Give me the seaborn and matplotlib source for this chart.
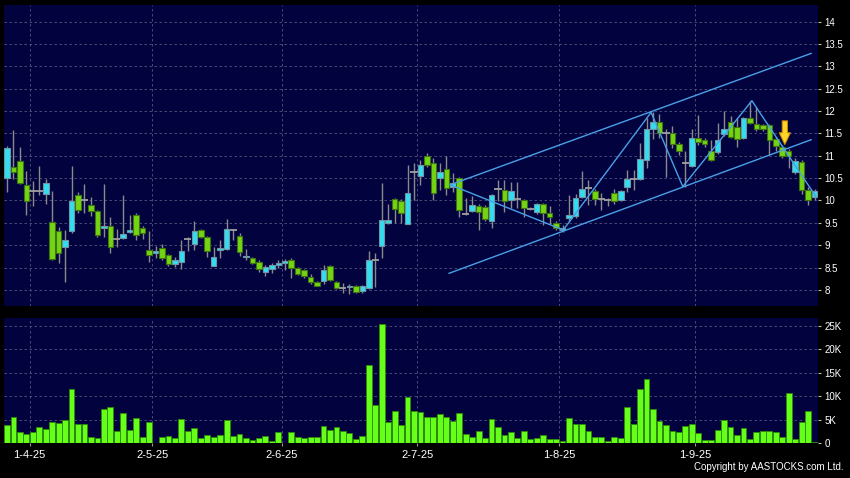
import numpy as np
import pandas as pd
import matplotlib
matplotlib.use('Agg')
import matplotlib.pyplot as plt
import seaborn as sns

# daily OHLC (HK$), oldest first
opens = [10.50, 10.74, 10.88, 10.35, 10.22, 10.22, 10.15, 9.52, 9.31, 8.95,
         9.31, 10.12, 10.00, 9.90, 9.76, 9.38, 9.42, 9.13, 9.16, 9.29,
         9.68, 9.38, 8.90, 8.82, 8.93, 8.79, 8.57, 8.62, 9.13, 9.02,
         9.33, 9.19, 8.54, 8.90, 8.91, 9.34, 9.21, 8.73, 8.71, 8.63,
         8.41, 8.46, 8.56, 8.60, 8.67, 8.50, 8.44, 8.28, 8.17, 8.20,
         8.53, 8.17, 8.05, 8.06, 8.09, 7.98, 8.04, 8.68, 8.99, 9.50,
         10.03, 9.98, 9.47, 10.63, 10.55, 11.00, 10.84, 10.50, 10.70, 10.30,
         10.50, 9.70, 9.77, 9.87, 9.85, 9.53, 10.25, 10.24, 10.02, 10.03,
         10.00, 9.82, 9.75, 9.92, 9.72, 9.49, 9.35, 9.60, 9.66, 10.08,
         10.27, 10.22, 10.04, 10.00, 10.17, 10.02, 10.30, 10.47, 10.48, 10.91,
         11.60, 11.76, 11.51, 11.51, 11.27, 10.84, 10.78, 11.39, 11.36, 11.10,
         11.08, 11.49, 11.76, 11.64, 11.40, 11.84, 11.71, 11.69, 11.68, 11.38,
         11.20, 11.10, 10.64, 10.85, 10.24, 10.08]
highs = [11.21, 11.58, 11.20, 10.65, 10.43, 10.78, 10.49, 10.22, 9.40, 9.34,
         10.76, 10.18, 10.37, 10.08, 9.79, 10.37, 9.64, 9.36, 10.13, 9.68,
         9.72, 9.44, 9.31, 8.98, 9.03, 8.80, 8.73, 9.12, 9.19, 9.55,
         9.36, 9.20, 8.97, 9.12, 9.58, 9.36, 9.27, 8.91, 8.74, 8.66,
         8.56, 8.60, 8.67, 8.69, 8.71, 8.52, 8.46, 8.35, 8.19, 8.56,
         8.56, 8.20, 8.15, 8.13, 8.12, 8.12, 8.87, 8.82, 10.40, 9.92,
         10.05, 10.03, 10.80, 10.84, 10.91, 11.06, 10.95, 10.84, 11.00, 10.62,
         10.52, 10.05, 10.09, 9.92, 9.90, 10.15, 10.46, 10.46, 10.42, 10.42,
         10.03, 9.86, 9.95, 9.95, 9.87, 9.53, 9.45, 10.13, 10.15, 10.67,
         10.45, 10.25, 10.16, 10.06, 10.26, 10.24, 10.69, 10.69, 11.28, 11.85,
         11.97, 11.94, 11.60, 11.66, 11.30, 11.10, 11.60, 11.90, 11.40, 11.36,
         11.74, 12.00, 11.88, 11.84, 11.86, 12.22, 12.10, 11.72, 11.72, 11.41,
         11.25, 11.15, 10.95, 10.90, 10.30, 10.25]
lows = [10.20, 10.47, 10.37, 9.68, 9.88, 10.13, 9.92, 8.67, 8.60, 8.18,
        9.28, 9.72, 9.73, 9.66, 9.19, 9.19, 8.82, 8.97, 9.13, 9.27,
        9.12, 9.13, 8.62, 8.71, 8.67, 8.54, 8.52, 8.46, 8.86, 8.89,
        9.16, 8.73, 8.53, 8.71, 8.90, 9.11, 8.76, 8.66, 8.57, 8.41,
        8.31, 8.37, 8.48, 8.45, 8.27, 8.33, 8.26, 8.13, 8.08, 8.14,
        8.20, 8.02, 7.92, 7.90, 7.93, 7.93, 8.02, 8.07, 8.71, 9.48,
        9.49, 9.50, 9.47, 10.02, 10.35, 10.75, 10.02, 10.24, 10.13, 10.20,
        9.64, 9.68, 9.75, 9.35, 9.55, 9.39, 9.98, 9.75, 9.83, 9.83,
        9.64, 9.78, 9.70, 9.45, 9.48, 9.33, 9.30, 9.55, 9.60, 10.05,
        9.90, 9.90, 9.78, 9.88, 9.93, 9.98, 10.20, 10.24, 10.45, 10.72,
        11.37, 11.40, 10.52, 11.17, 11.02, 10.31, 10.75, 11.25, 11.20, 10.88,
        11.05, 11.45, 11.40, 11.20, 11.38, 11.70, 11.55, 11.55, 11.02, 11.10,
        10.95, 10.73, 10.60, 10.15, 9.90, 10.00]
closes = [11.18, 10.64, 10.40, 9.99, 10.22, 10.22, 10.39, 8.69, 8.82, 9.11,
          9.99, 9.78, 10.00, 9.76, 9.22, 9.42, 8.97, 9.13, 9.25, 9.33,
          9.22, 9.28, 8.77, 8.86, 8.71, 8.57, 8.67, 8.87, 9.13, 9.31,
          9.18, 8.86, 8.74, 8.92, 9.36, 9.34, 8.84, 8.74, 8.60, 8.46,
          8.52, 8.56, 8.60, 8.64, 8.48, 8.35, 8.32, 8.17, 8.09, 8.45,
          8.22, 8.05, 8.05, 8.08, 7.95, 8.09, 8.68, 8.68, 9.56, 9.56,
          9.80, 9.73, 10.16, 10.63, 10.80, 10.80, 10.17, 10.63, 10.28, 10.39,
          9.78, 9.70, 9.89, 9.74, 9.58, 10.13, 10.25, 9.98, 10.22, 10.03,
          9.83, 9.82, 9.92, 9.72, 9.64, 9.39, 9.37, 9.68, 10.05, 10.25,
          10.27, 10.03, 10.04, 10.00, 9.98, 10.22, 10.48, 10.47, 10.93, 11.60,
          11.76, 11.51, 11.51, 11.26, 11.10, 10.84, 11.40, 11.30, 11.27, 10.91,
          11.36, 11.60, 11.41, 11.38, 11.84, 11.74, 11.59, 11.60, 11.36, 11.21,
          11.00, 10.99, 10.89, 10.24, 10.02, 10.22]
# volume in thousands of shares
volume_k = [3.9, 5.6, 2.4, 2.0, 2.4, 3.6, 3.1, 4.6, 4.3, 5.0,
            11.6, 4.1, 4.1, 1.4, 1.2, 7.4, 7.8, 2.7, 6.5, 2.9,
            5.5, 1.4, 4.5, 0.1, 1.4, 1.6, 1.1, 5.2, 2.7, 3.2,
            1.1, 1.7, 1.3, 1.7, 5.0, 1.6, 2.1, 1.1, 0.7, 1.1,
            1.6, 0.6, 2.5, 0.0, 2.4, 1.4, 1.1, 1.3, 1.4, 3.7,
            2.9, 3.4, 2.6, 2.3, 0.9, 1.6, 16.7, 8.2, 25.3, 4.6,
            7.0, 3.9, 9.9, 6.8, 6.7, 5.6, 5.6, 6.2, 5.6, 4.8,
            6.5, 2.1, 1.4, 2.6, 1.2, 5.1, 3.4, 1.8, 2.4, 1.1,
            2.6, 0.9, 1.2, 1.7, 1.0, 1.0, 0.6, 5.4, 4.2, 4.1,
            2.7, 1.3, 1.3, 0.6, 1.4, 1.2, 7.8, 4.1, 11.6, 13.8,
            7.3, 4.7, 4.0, 2.7, 2.4, 3.7, 4.1, 2.2, 0.7, 0.7,
            2.9, 4.9, 3.4, 1.8, 3.3, 1.0, 2.4, 2.6, 2.6, 2.5,
            1.4, 10.7, 0.9, 4.6, 6.9, 0.4]

tick_days = [4, 23, 43, 64, 86, 107]
tick_labels = ['1-4-25', '2-5-25', '2-6-25', '2-7-25', '1-8-25', '1-9-25']
price_ticks = [8, 8.5, 9, 9.5, 10, 10.5, 11, 11.5, 12, 12.5, 13, 13.5, 14]
vol_ticks = [0, 5, 10, 15, 20, 25]
vol_labels = ['0', '5K', '10K', '15K', '20K', '25K']

# drawn trend lines (bar index, price)
zigzag_x = [68.6, 86.1, 99.7, 104.6, 115.3, 125.2]
zigzag_y = [10.35, 9.34, 11.97, 10.31, 12.23, 10.09]
upper_x = [68.6, 124.5]
upper_y = [10.35, 13.29]
lower_x = [68.4, 124.5]
lower_y = [8.37, 11.36]
arrow_x = 120.4
arrow_tip, arrow_tail = 11.25, 11.78

df = pd.DataFrame({'open': opens, 'high': highs, 'low': lows,
                   'close': closes, 'vol': volume_k})
df['i'] = np.arange(len(df))

navy = '#02023f'
grid_c = '#55557f'
cyan = '#33dcef'
green = '#74d414'
line_c = '#4aa0e6'

sns.set_theme(style='dark', rc={'axes.facecolor': navy, 'figure.facecolor': 'black'})
plt.rcParams['font.family'] = ['Liberation Sans', 'DejaVu Sans']

fig = plt.figure(figsize=(8.5, 4.78), dpi=100, facecolor='black')
ax = fig.add_axes([0.0047, 0.3598, 0.9577, 0.6297])
axv = fig.add_axes([0.0047, 0.0722, 0.9577, 0.2619])

# candles
ax.vlines(df['i'], df['low'], df['high'], color='#8a8a8a', lw=1, zorder=2)
up = df[df['close'] > df['open']]
dn = df[df['close'] < df['open']]
dj = df[df['close'] == df['open']]
ax.bar(up['i'], np.maximum(up['close'] - up['open'], 0.03), bottom=up['open'],
       width=0.86, color=cyan, edgecolor='#6f94a4', lw=0.8, zorder=3)
ax.bar(dn['i'], np.maximum(dn['open'] - dn['close'], 0.03), bottom=dn['close'],
       width=0.86, color=green, edgecolor='#3d7410', lw=0.8, zorder=3)
ax.hlines(dj['open'], dj['i'] - 0.55, dj['i'] + 0.55, color='#a0a0a0', lw=1.3, zorder=3)

# trend lines
ax.plot(zigzag_x, zigzag_y, color=line_c, lw=1, zorder=4)
ax.plot(upper_x, upper_y, color=line_c, lw=1, zorder=4)
ax.plot(lower_x, lower_y, color=line_c, lw=1, zorder=4)
ax.annotate('', xy=(arrow_x, arrow_tip), xytext=(arrow_x, arrow_tail),
            arrowprops=dict(arrowstyle='simple,head_length=0.85,head_width=0.8,tail_width=0.38',
                            fc='#ffd42a', ec='#c98a00', lw=0.7, mutation_scale=10,
                            shrinkA=0, shrinkB=0), zorder=5)

# volume
sns.barplot(data=df, x='i', y='vol', native_scale=True, ax=axv, color='#66ff1a',
            saturation=1, edgecolor='#2e8a08', linewidth=0.6, width=0.9,
            errorbar=None, zorder=3)

xlim = (-0.46, 125.54)
xt = [t - 0.5 for t in tick_days]
for a in (ax, axv):
    a.set_xlim(*xlim)
    a.set_xticks(xt)
    a.grid(True, color=grid_c, ls=(0, (3, 3)), lw=0.6, zorder=0)
    a.set_axisbelow(True)
    a.yaxis.tick_right()
    a.set_xlabel('')
    a.set_ylabel('')
    for s in a.spines.values():
        s.set_visible(False)
    a.tick_params(axis='y', colors='#bbbbbb', labelcolor='white', length=2.5,
                  width=0.8, labelsize=7, pad=2, right=True, left=False)

ax.set_ylim(7.64, 14.37)
ax.set_yticks(price_ticks)
ax.set_yticklabels([f'{p:g}' for p in price_ticks])
ax.tick_params(axis='x', labelbottom=False, length=0)

axv.set_ylim(0, 26.6)
axv.set_yticks(vol_ticks)
axv.set_yticklabels(vol_labels)
axv.set_xticklabels(tick_labels)
axv.tick_params(axis='x', colors='#999999', labelcolor='white', length=2.5,
                width=0.8, labelsize=8, pad=2.5, bottom=True)

fig.text(0.992, 0.012, 'Copyright by AASTOCKS.com Ltd.', ha='right', va='bottom',
         color='white', fontsize=7)

fig.savefig('out.png', dpi=100, facecolor='black')
